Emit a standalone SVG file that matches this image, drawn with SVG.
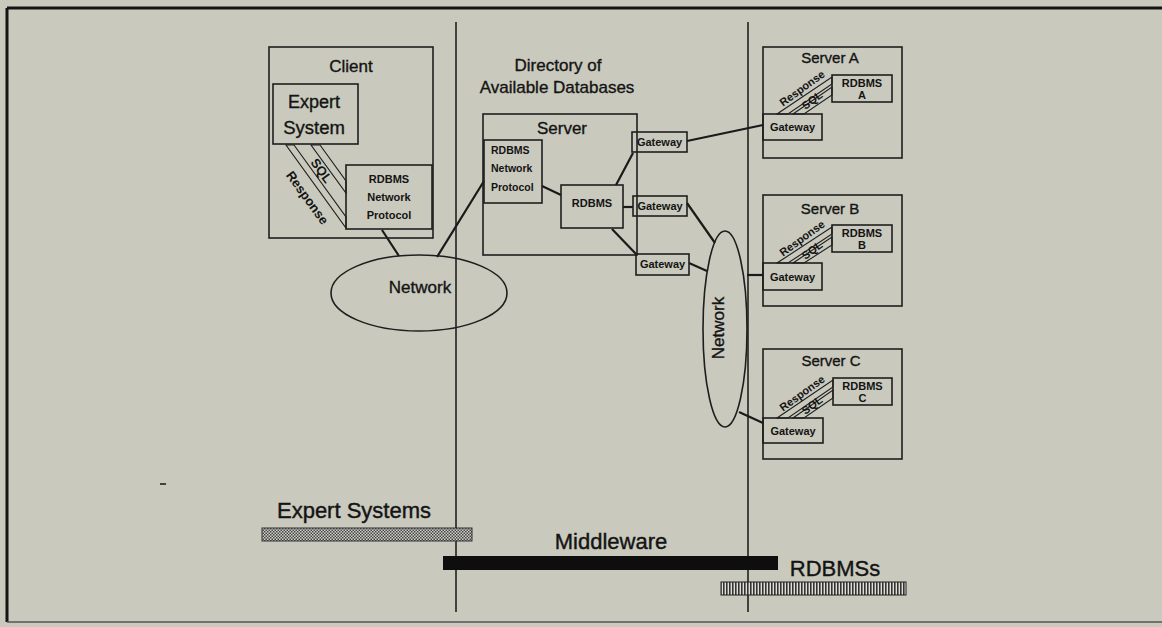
<svg xmlns="http://www.w3.org/2000/svg" width="1162" height="627" viewBox="0 0 1162 627">
<style>
text{font-family:"Liberation Sans",Arial,sans-serif;fill:#141414}
.box{fill:none;stroke:#1e1e1e;stroke-width:1.6}
.band{fill:none;stroke:#1e1e1e;stroke-width:1.1}
.con{stroke:#1a1a1a;stroke-width:2.2;fill:none}
.lbl{font-size:17px;text-anchor:middle;stroke:#141414;stroke-width:0.35}
.sm{font-size:11px;font-weight:bold;text-anchor:middle}
.big{font-size:22px;text-anchor:middle;stroke:#141414;stroke-width:0.4}
</style>
<defs>
<pattern id="chk" width="3" height="3" patternUnits="userSpaceOnUse">
<rect width="3" height="3" fill="#d0d0c8"/>
<rect width="1.5" height="1.5" fill="#444"/>
<rect x="1.5" y="1.5" width="1.5" height="1.5" fill="#444"/>
</pattern>
<pattern id="vst" width="3" height="4" patternUnits="userSpaceOnUse">
<rect width="3" height="4" fill="#e0e0d8"/>
<rect width="1.6" height="4" fill="#333"/>
</pattern>
</defs>
<rect width="1162" height="627" fill="#c9c9bd"/>
<g id="frame" fill="none" stroke="#151515">
<line x1="7" y1="8" x2="1162" y2="8" stroke-width="3"/>
<line x1="7" y1="8" x2="7" y2="622" stroke-width="3"/>
<line x1="7" y1="622" x2="1162" y2="622" stroke-width="1.5" stroke="#555"/>
<line x1="456" y1="22" x2="456" y2="612" stroke-width="1.5"/>
<line x1="748" y1="22" x2="748" y2="612" stroke-width="1.5"/>
<line x1="160" y1="484" x2="166" y2="484" stroke-width="1.5"/>
</g>

<g id="connectors">
<line class="con" x1="382" y1="230" x2="399" y2="256"/>
<line class="con" x1="437" y1="257" x2="484" y2="181"/>
<line class="con" x1="542" y1="186" x2="561" y2="195"/>
<line class="con" x1="616" y1="185" x2="633" y2="153"/>
<line class="con" x1="623" y1="207" x2="633" y2="207"/>
<line class="con" x1="612" y1="229" x2="636" y2="254"/>
<line class="con" x1="687" y1="141" x2="763" y2="125"/>
<line class="con" x1="687" y1="203" x2="715" y2="243"/>
<line class="con" x1="689" y1="263" x2="707" y2="271"/>
<line class="con" x1="747" y1="275" x2="763" y2="275"/>
<line class="con" x1="739" y1="412" x2="763" y2="423"/>
</g>

<g id="client">
<rect class="box" x="269" y="47" width="164" height="191"/>
<text class="lbl" x="351" y="72">Client</text>
<rect class="box" x="273" y="84" width="85" height="60"/>
<text class="lbl" x="314" y="108" style="font-size:18px">Expert</text>
<text class="lbl" x="314" y="134" style="font-size:18.5px">System</text>
<rect class="box" x="346" y="165" width="86" height="64"/>
<text class="sm" x="389" y="183">RDBMS</text>
<text class="sm" x="389" y="201">Network</text>
<text class="sm" x="389" y="219">Protocol</text>
<polygon class="band" points="286,145 294,145 346,217 346,228"/>
<polygon class="band" points="311,145 320,145 346,181 346,193"/>
<text class="sm" style="font-size:13px" transform="translate(321,171) rotate(54)" y="4">SQL</text>
<text class="sm" style="font-size:13px" transform="translate(307,198) rotate(54)" y="4">Response</text>
</g>

<g id="network-left">
<ellipse class="box" cx="419" cy="293" rx="88" ry="38"/>
<text class="lbl" x="420" y="293">Network</text>
</g>

<g id="directory">
<text class="lbl" x="558" y="71">Directory of</text>
<text class="lbl" x="557" y="93">Available Databases</text>
</g>

<g id="server">
<rect class="box" x="483" y="114" width="154" height="141"/>
<text class="lbl" x="562" y="134">Server</text>
<rect class="box" x="484" y="140" width="58" height="63"/>
<text class="sm" x="491" y="154" style="font-size:10.5px;text-anchor:start">RDBMS</text>
<text class="sm" x="491" y="172" style="font-size:10.5px;text-anchor:start">Network</text>
<text class="sm" x="491" y="191" style="font-size:10.5px;text-anchor:start">Protocol</text>
<rect class="box" x="561" y="185" width="62" height="43"/>
<text class="sm" x="592" y="207">RDBMS</text>
</g>

<g id="gateway-1">
<rect class="box" x="632" y="132" width="55" height="20"/>
<text class="sm" x="659.5" y="146">Gateway</text>
</g>
<g id="gateway-2">
<rect class="box" x="633" y="196" width="54" height="20"/>
<text class="sm" x="660" y="210">Gateway</text>
</g>
<g id="gateway-3">
<rect class="box" x="636" y="254" width="53" height="21"/>
<text class="sm" x="662.5" y="268">Gateway</text>
</g>

<g id="network-right">
<ellipse class="box" cx="725" cy="329" rx="22" ry="98"/>
<text class="lbl" transform="translate(718,328) rotate(-90)" y="6">Network</text>
</g>

<g id="server-a" transform="translate(763,47)">
<rect class="box" x="0" y="0" width="139" height="111"/>
<text class="lbl" x="67" y="16" style="font-size:15px">Server A</text>
<rect class="box" x="69" y="28" width="60" height="27"/>
<text class="sm" x="99" y="40">RDBMS</text>
<text class="sm" x="99" y="52">A</text>
<polygon class="band" points="14,67 25,67 69,37 69,30"/>
<polygon class="band" points="30,67 41,67 69,48 69,40"/>
<text class="sm" transform="translate(39,41) rotate(-36)" y="4">Response</text>
<text class="sm" transform="translate(49,53) rotate(-36)" y="4">SQL</text>
<rect class="box" x="0" y="67" width="59" height="26"/>
<text class="sm" x="29.5" y="84">Gateway</text>
</g>

<g id="server-b" transform="translate(763,195)">
<rect class="box" x="0" y="0" width="139" height="111"/>
<text class="lbl" x="67" y="19" style="font-size:15px">Server B</text>
<rect class="box" x="69" y="30" width="60" height="27"/>
<text class="sm" x="99" y="42">RDBMS</text>
<text class="sm" x="99" y="54">B</text>
<polygon class="band" points="14,68 25,68 69,39 69,32"/>
<polygon class="band" points="30,68 41,68 69,50 69,42"/>
<text class="sm" transform="translate(39,43) rotate(-36)" y="4">Response</text>
<text class="sm" transform="translate(49,55) rotate(-36)" y="4">SQL</text>
<rect class="box" x="0" y="68" width="59" height="27"/>
<text class="sm" x="29.5" y="86">Gateway</text>
</g>

<g id="server-c" transform="translate(763,349)">
<rect class="box" x="0" y="0" width="139" height="110"/>
<text class="lbl" x="68" y="17" style="font-size:15px">Server C</text>
<rect class="box" x="70" y="29" width="59" height="27"/>
<text class="sm" x="99.5" y="41">RDBMS</text>
<text class="sm" x="99.5" y="53">C</text>
<polygon class="band" points="14,69 25,69 70,38 70,31"/>
<polygon class="band" points="30,69 41,69 70,49 70,41"/>
<text class="sm" transform="translate(39,44) rotate(-36)" y="4">Response</text>
<text class="sm" transform="translate(49,56) rotate(-36)" y="4">SQL</text>
<rect class="box" x="0" y="69" width="60" height="25"/>
<text class="sm" x="30" y="86">Gateway</text>
</g>

<g id="legend">
<text class="big" x="354" y="518">Expert Systems</text>
<rect x="262" y="528" width="210" height="13" fill="url(#chk)" stroke="#333" stroke-width="1"/>
<text class="big" x="611" y="549">Middleware</text>
<rect x="443" y="556" width="335" height="14" fill="#0e0e0e"/>
<text class="big" x="835" y="576">RDBMSs</text>
<rect x="721" y="582" width="185" height="13" fill="url(#vst)" stroke="#222" stroke-width="1"/>
</g>
</svg>
